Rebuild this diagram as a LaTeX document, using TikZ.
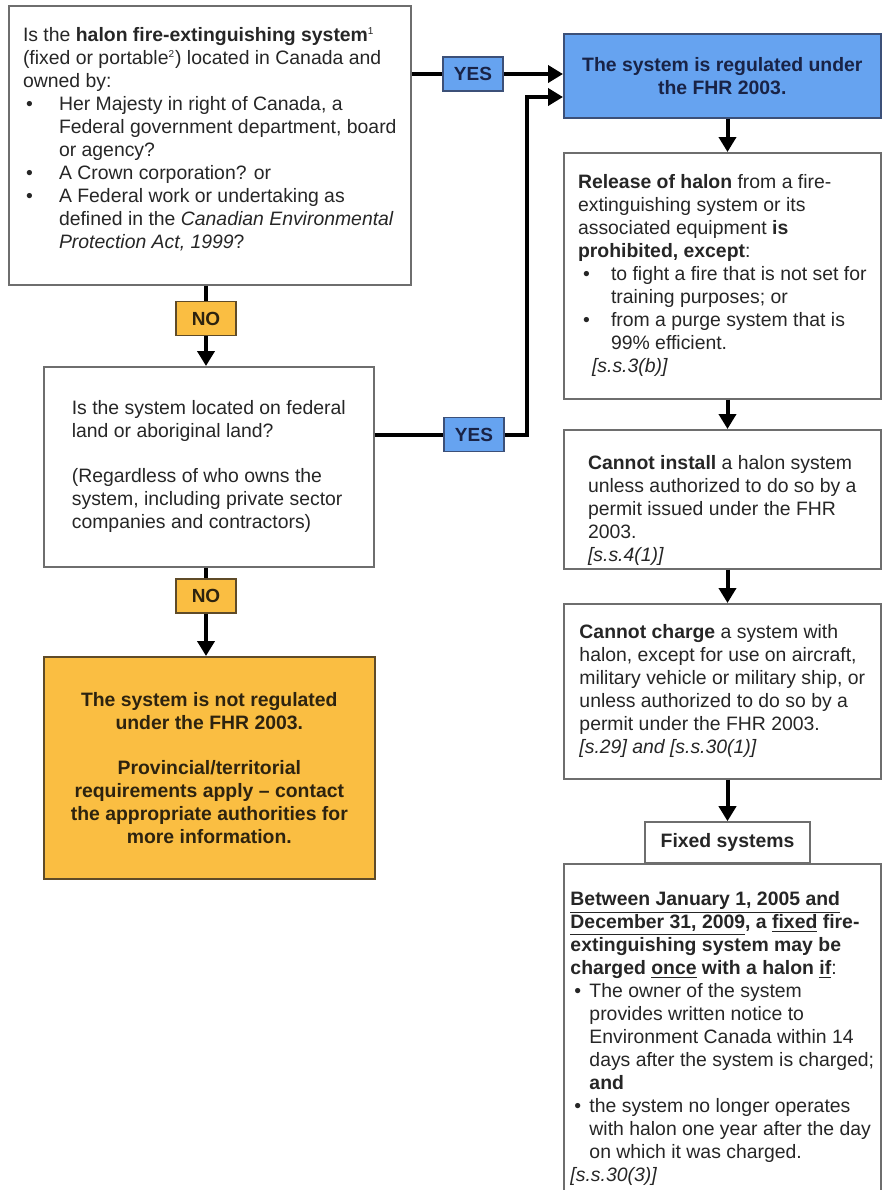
\documentclass[tikz,border=0pt]{standalone}
\usepackage{fontspec}
\setmainfont{Liberation Sans}
\usetikzlibrary{arrows.meta}

\definecolor{regblue}{RGB}{102,163,240}
\definecolor{regedge}{RGB}{60,80,120}
\definecolor{regtext}{RGB}{25,35,70}
\definecolor{noorange}{RGB}{250,190,66}
\definecolor{noedge}{RGB}{95,75,40}
\definecolor{notext}{RGB}{45,35,15}
\definecolor{boxedge}{RGB}{110,110,110}

\newcommand{\bodyfont}{\fontsize{9.7}{11.5}\selectfont}
\newcommand{\blt}[2]{\hspace*{#1}\makebox[#2][l]{\textbullet}}
\newcommand{\fnref}[1]{\textsuperscript{\fontsize{5}{5}\selectfont #1}}

\begin{document}
\begin{tikzpicture}[x=0.5pt, y=-0.5pt,
  every node/.style={font=\bodyfont, text=black!85},
  box/.style={draw=boxedge, line width=0.8pt, fill=white, align=left, anchor=north west, inner sep=0pt},
  yesbox/.style={draw=regedge, line width=0.8pt, fill=regblue, text=regtext, minimum width=30pt, minimum height=17pt, inner sep=0pt, font=\fontsize{9.5}{11}\selectfont\bfseries},
  nobox/.style={yesbox, draw=noedge, fill=noorange, text=notext},
  conn/.style={line width=2pt, black},
  >={Triangle[length=7.5pt,width=8.5pt]}]
  \clip (0,0) rectangle (883,1190);
  \fill[white] (0,0) rectangle (883,1190);

  % left column
  \node[box, minimum width=201pt, minimum height=139.5pt] (q1) at (8,5) {Is the \textbf{halon fire-extinguishing system}\fnref{1}\\
    (fixed or portable\fnref{2}) located in Canada and\\
    owned by:\\
    \blt{1.5pt}{16.5pt}Her Majesty in right of Canada, a\\
    \hspace*{18pt}Federal government department, board\\
    \hspace*{18pt}or agency?\\
    \blt{1.5pt}{16.5pt}A Crown corporation? or\\
    \blt{1.5pt}{16.5pt}A Federal work or undertaking as\\
    \hspace*{18pt}defined in the \textit{Canadian Environmental}\\
    \hspace*{18pt}\textit{Protection Act, 1999}?\\[-4.5pt]
    \mbox{}};
  \node[nobox] (no1) at (206,318.5) {NO};
  \node[box, minimum width=165pt, minimum height=100pt] (q2) at (43,366) {Is the system located on federal\\
    land or aboriginal land?\\[11pt]
    (Regardless of who owns the\\
    system, including private sector\\
    companies and contractors)};
  \node[nobox] (no2) at (206,596) {NO};
  \node[box, draw=noedge, fill=noorange, text=notext, align=center, minimum width=165.5pt, minimum height=111pt, font=\bodyfont\bfseries] (notreg) at (43,656) {The system is not regulated\\
    under the FHR 2003.\\[11pt]
    Provincial/territorial\\
    requirements apply -- contact\\
    the appropriate authorities for\\
    more information.};

  % right column
  \node[yesbox] (yes1) at (473,74) {YES};
  \node[yesbox] (yes2) at (474,434.5) {YES};
  \node[box, draw=regedge, fill=regblue, text=regtext, align=center, minimum width=158.5pt, minimum height=42pt, font=\bodyfont\bfseries] (reg) at (563,33) {The system is regulated under\\the FHR 2003.};
  \node[box, minimum width=158.5pt, minimum height=123pt] (rel) at (563,152) {\textbf{Release of halon} from a fire-\\
    extinguishing system or its\\
    associated equipment \textbf{is}\\
    \textbf{prohibited, except}:\\
    \blt{2.5pt}{14pt}to fight a fire that is not set for\\
    \hspace*{16.5pt}training purposes; or\\
    \blt{2.5pt}{14pt}from a purge system that is\\
    \hspace*{16.5pt}99\% efficient.\\
    \hspace*{7pt}\textit{[s.s.3(b)]}};
  \node[box, minimum width=158.5pt, minimum height=69.5pt] (inst) at (563,429) {\mbox{}\\[7pt]
    \textbf{Cannot install} a halon system\\
    unless authorized to do so by a\\
    permit issued under the FHR\\
    2003.\\
    \textit{[s.s.4(1)]}};
  \node[box, minimum width=158.5pt, minimum height=87.5pt] (chg) at (563,603) {\textbf{Cannot charge} a system with\\
    halon, except for use on aircraft,\\
    military vehicle or military ship, or\\
    unless authorized to do so by a\\
    permit under the FHR 2003.\\
    \textit{[s.29] and [s.s.30(1)]}};
  \node[box, anchor=center, align=center, minimum width=82.5pt, minimum height=20.5pt, font=\bodyfont\bfseries] (fix) at (727.5,842.5) {Fixed systems};
  \node[box, minimum width=158.5pt, inner ysep=14pt] (betw) at (563,863) {\textbf{\underline{Between January 1, 2005 and}}\\
    \textbf{\underline{December 31, 2009}, a \underline{fixed} fire-}\\
    \textbf{extinguishing system may be}\\
    \textbf{charged \underline{once} with a halon \underline{if}}:\\
    \blt{2pt}{7.5pt}The owner of the system\\
    \hspace*{9.5pt}provides written notice to\\
    \hspace*{9.5pt}Environment Canada within 14\\
    \hspace*{9.5pt}days after the system is charged;\\
    \hspace*{9.5pt}\textbf{and}\\
    \blt{2pt}{7.5pt}the system no longer operates\\
    \hspace*{9.5pt}with halon one year after the day\\
    \hspace*{9.5pt}on which it was charged.\\
    \textit{[s.s.30(3)]}};

  % connectors
  \coordinate (bend) at (527,97);
  \draw[conn] (q1.east |- yes1) -- (yes1);
  \draw[conn, ->] (yes1) -- (reg.west |- yes1);
  \draw[conn] (q1.south -| no1) -- (no1);
  \draw[conn, ->] (no1) -- (q2.north -| no1);
  \draw[conn] (q2.east |- yes2) -- (yes2);
  \draw[conn, ->] (yes2) -| (bend) -- (reg.west |- bend);
  \draw[conn] (q2.south -| no2) -- (no2);
  \draw[conn, ->] (no2) -- (notreg.north -| no2);
  \draw[conn, ->] (reg.south -| fix) -- (rel.north -| fix);
  \draw[conn, ->] (rel.south -| fix) -- (inst.north -| fix);
  \draw[conn, ->] (inst.south -| fix) -- (chg.north -| fix);
  \draw[conn, ->] (chg.south -| fix) -- (fix);
\end{tikzpicture}
\end{document}
